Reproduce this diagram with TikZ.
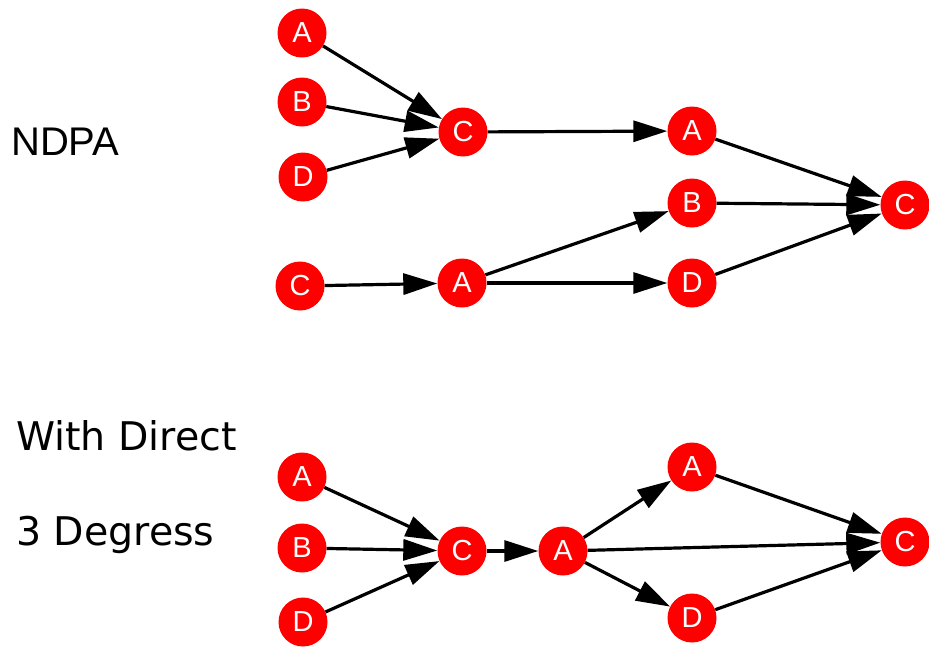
\documentclass[tikz,border=0pt]{standalone}
\usepackage{fontspec}
\setmainfont{Liberation Sans}
\newfontfamily\labelfont{DejaVu Sans}
\usetikzlibrary{arrows.meta}

\begin{document}
\begin{tikzpicture}[x=1pt, y=-1pt]
  \tikzset{
    vtx/.style={circle, fill=red, text=white, minimum size=49pt, inner sep=0pt,
      font=\fontsize{29}{29}\selectfont},
    link/.style={-{Triangle[length=34pt, width=21pt]}, line width=3.2pt, black},
    title/.style={anchor=base west, inner sep=0pt,
      font=\labelfont\fontsize{39.5}{40}\selectfont}
  }
  \useasboundingbox (0,0) rectangle (929,646);

  % titles
  \node[title, font=\fontsize{40}{40}\selectfont] (ndpa) at (11,155) {NDPA};
  \node[title] (direct) at (16,450) {With Direct};
  \node[title] (degree) at (16,545) {3 Degress};

  % NDPA, first path
  \node[vtx] (a1) at (302,33) {A};
  \node[vtx] (b1) at (302,102) {B};
  \node[vtx] (d1) at (303,177) {D};
  \node[vtx] (c1) at (463,132) {C};
  \node[vtx] (a2) at (692,131) {A};

  % NDPA, second path
  \node[vtx] (c2) at (300,286) {C};
  \node[vtx] (a3) at (462,283) {A};
  \node[vtx] (b2) at (692,203) {B};
  \node[vtx] (d2) at (692,283) {D};
  \node[vtx] (c3) at (905,205) {C};

  \draw[link] (a1) -- (c1);
  \draw[link] (b1) -- (c1);
  \draw[link] (d1) -- (c1);
  \draw[link] (c1) -- (a2);
  \draw[link] (a2) -- (c3);
  \draw[link] (b2) -- (c3);
  \draw[link] (d2) -- (c3);
  \draw[link] (c2) -- (a3);
  \draw[link] (a3) -- (b2);
  \draw[link] (a3) -- (d2);

  % with direct
  \node[vtx] (a4) at (302,477) {A};
  \node[vtx] (b4) at (302,548) {B};
  \node[vtx] (d4) at (303,622) {D};
  \node[vtx] (c4) at (462,551) {C};
  \node[vtx] (a5) at (563,551) {A};
  \node[vtx] (a6) at (692,467) {A};
  \node[vtx] (d6) at (692,618) {D};
  \node[vtx] (c6) at (905,542) {C};

  \draw[link] (a4) -- (c4);
  \draw[link] (b4) -- (c4);
  \draw[link] (d4) -- (c4);
  \draw[link] (c4) -- (a5);
  \draw[link] (a5) -- (a6);
  \draw[link] (a5) -- (c6);
  \draw[link] (a5) -- (d6);
  \draw[link] (a6) -- (c6);
  \draw[link] (d6) -- (c6);
\end{tikzpicture}
\end{document}
